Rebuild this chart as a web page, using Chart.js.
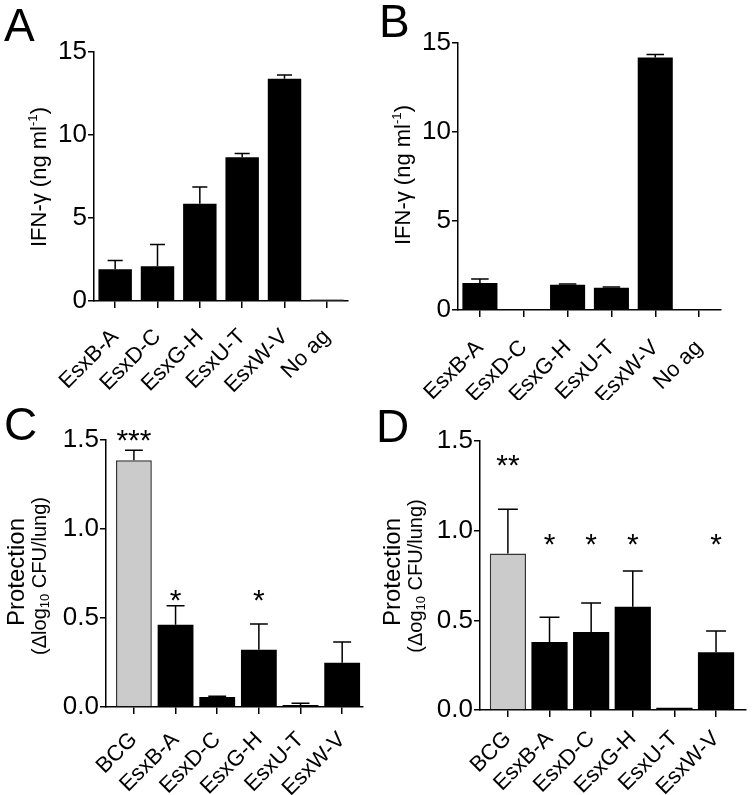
<!DOCTYPE html>
<html><head><meta charset="utf-8">
<script src="https://cdn.jsdelivr.net/npm/chart.js@4.4.1/dist/chart.umd.min.js"></script>
<style>
html,body{margin:0;padding:0;background:#fff;}
body{width:752px;height:795px;position:relative;overflow:hidden;font-family:"Liberation Sans",Arial,Helvetica,sans-serif;color:#000;}
canvas{position:absolute;}
.letter{position:absolute;font-size:46px;line-height:1;white-space:nowrap;}
.ytitle{position:absolute;transform:translate(-50%,-50%) rotate(-90deg);white-space:nowrap;line-height:1;}
.sup{font-size:0.6em;vertical-align:0.75em;}
.sub{font-size:0.65em;vertical-align:-0.3em;}
</style></head>
<body>
<canvas id="cA" width="376" height="400" style="left:0;top:0"></canvas>
<canvas id="cB" width="376" height="400" style="left:376px;top:0"></canvas>
<canvas id="cC" width="376" height="395" style="left:0;top:400px"></canvas>
<canvas id="cD" width="376" height="395" style="left:376px;top:400px"></canvas>

<div class="letter" style="left:4px;top:2px">A</div>
<div class="letter" style="left:379px;top:-2px">B</div>
<div class="letter" style="left:4px;top:401px">C</div>
<div class="letter" style="left:376px;top:403px">D</div>

<div class="ytitle" style="left:38px;top:177px;font-size:22px">IFN-γ (ng ml<span class="sup">-1</span>)</div>
<div class="ytitle" style="left:402px;top:175px;font-size:22px">IFN-γ (ng ml<span class="sup">-1</span>)</div>
<div class="ytitle" style="left:16px;top:572px;font-size:24px">Protection</div>
<div class="ytitle" style="left:40px;top:576px;font-size:20px">(Δlog<span class="sub">10</span> CFU/lung)</div>
<div class="ytitle" style="left:392px;top:572px;font-size:24px">Protection</div>
<div class="ytitle" style="left:416px;top:576px;font-size:20px">(Δog<span class="sub">10</span> CFU/lung)</div>

<script>
// ---- data ----
const ifnCategories = ['EsxB-A','EsxD-C','EsxG-H','EsxU-T','EsxW-V','No ag'];
const protCategories = ['BCG','EsxB-A','EsxD-C','EsxG-H','EsxU-T','EsxW-V'];

const ifnA    = [1.91, 2.09, 5.86, 8.66, 13.39, 0.10];
const ifnAErr = [0.53, 1.31, 1.01, 0.22, 0.22, 0.0];

const ifnB    = [1.52, 0, 1.42, 1.25, 14.19, 0];
const ifnBErr = [0.22, 0, 0.04, 0.04, 0.17, 0];

const protC    = [1.386, 0.462, 0.056, 0.322, 0.011, 0.249];
const protCErr = [0.056, 0.107, 0.005, 0.144, 0.010, 0.116];

const protD    = [0.872, 0.379, 0.435, 0.576, 0.013, 0.322];
const protDErr = [0.247, 0.138, 0.162, 0.199, 0.0, 0.119];

const starsC     = ['***', '*', '', '*', '', ''];
const starLevelC = [1.54, 0.645, null, 0.645, null, null];
const starsD     = ['**', '*', '*', '*', '', '*'];
const starLevelD = [1.41, 0.965, 0.965, 0.965, null, 0.965];

const ifnTicks  = [0, 5, 10, 15];
const protTicks = [0, 0.5, 1.0, 1.5];

// ---- drawing ----
const FONT = '"Liberation Sans", Arial, Helvetica, sans-serif';

function overlayPlugin(errors, capFrac, stars, starLevels) {
  return {
    id: 'overlay',
    afterDatasetsDraw(chart) {
      const ctx = chart.ctx;
      const ys = chart.scales.y;
      const meta = chart.getDatasetMeta(0);
      const vals = chart.data.datasets[0].data;
      ctx.save();
      ctx.strokeStyle = '#000';
      ctx.lineWidth = 1.5;
      meta.data.forEach((bar, i) => {
        const e = errors[i];
        if (!e) return;
        const y0 = ys.getPixelForValue(vals[i]);
        const y1 = ys.getPixelForValue(vals[i] + e);
        const half = bar.width * capFrac / 2;
        ctx.beginPath();
        ctx.moveTo(bar.x, y0); ctx.lineTo(bar.x, y1);
        ctx.moveTo(bar.x - half, y1); ctx.lineTo(bar.x + half, y1);
        ctx.stroke();
      });
      if (stars) {
        const fs = 30;
        ctx.fillStyle = '#000';
        ctx.font = fs + 'px ' + FONT;
        ctx.textAlign = 'center';
        ctx.textBaseline = 'alphabetic';
        meta.data.forEach((bar, i) => {
          if (!stars[i]) return;
          const yc = ys.getPixelForValue(starLevels[i]);
          ctx.fillText(stars[i], bar.x, yc + 0.58 * fs);
        });
      }
      ctx.restore();
    }
  };
}

function makePanel(id, cfg) {
  const canvas = document.getElementById(id);
  const W = canvas.width, H = canvas.height;
  const colors = cfg.categories.map(c => c === 'BCG' ? '#cbcbcb' : (c === 'No ag' ? '#8a8a8a' : '#000'));
  const borders = cfg.categories.map(c => c === 'BCG' ? 1.5 : 0);
  new Chart(canvas, {
    type: 'bar',
    data: {
      labels: cfg.categories,
      datasets: [{
        data: cfg.values,
        backgroundColor: colors,
        borderColor: '#333',
        borderWidth: borders,
        borderSkipped: 'start',
        categoryPercentage: 1,
        barPercentage: cfg.barPct
      }]
    },
    options: {
      responsive: false,
      animation: false,
      devicePixelRatio: 1,
      layout: { padding: { left: 0, top: cfg.areaT, right: W - cfg.areaR, bottom: 0 } },
      plugins: { legend: { display: false }, tooltip: { enabled: false }, title: { display: false } },
      scales: {
        x: {
          type: 'category',
          offset: true,
          grid: { offset: false, drawOnChartArea: false, drawTicks: true, tickLength: 7, color: '#000', lineWidth: 1.5 },
          border: { display: true, color: '#000', width: 1.5 },
          ticks: { color: '#000', font: { family: FONT, size: 22 }, minRotation: 45, maxRotation: 45, autoSkip: false, padding: cfg.labelPad },
          afterFit(s) { s.height = H - cfg.areaB; },
          afterBuildTicks(s) {
            const n = cfg.categories.length;
            s._startValue = -0.5 - (cfg.padL || 0);
            s._valueRange = n + (cfg.padL || 0) + (cfg.padR || 0);
          }
        },
        y: {
          min: cfg.ticks[0],
          max: cfg.ticks[cfg.ticks.length - 1],
          grid: { drawOnChartArea: false, drawTicks: true, tickLength: 6, color: '#000', lineWidth: 1.5 },
          border: { display: true, color: '#000', width: 1.5 },
          ticks: { color: '#000', font: { family: FONT, size: 26 }, padding: 1,
                   callback: v => cfg.decimals ? Number(v).toFixed(cfg.decimals) : String(v) },
          afterBuildTicks(s) { s.ticks = cfg.ticks.map(v => ({ value: v })); },
          afterFit(s) { s.width = cfg.areaL; }
        }
      }
    },
    plugins: [overlayPlugin(cfg.errors, cfg.cap, cfg.stars, cfg.starLevels)]
  });
}

makePanel('cA', { categories: ifnCategories, values: ifnA, errors: ifnAErr, ticks: ifnTicks, decimals: 0,
  areaL: 94, areaT: 52, areaR: 348, areaB: 301, barPct: 0.79, cap: 0.45, labelPad: 16 });
makePanel('cB', { categories: ifnCategories, values: ifnB, errors: ifnBErr, ticks: ifnTicks, decimals: 0,
  areaL: 82, areaT: 43, areaR: 345, areaB: 310, barPct: 0.8, cap: 0.5, labelPad: 18 });
makePanel('cC', { categories: protCategories, values: protC, errors: protCErr, ticks: protTicks, decimals: 1,
  areaL: 106, areaT: 40, areaR: 363, areaB: 307, barPct: 0.86, cap: 0.5, padL: 0.17, padR: 0, labelPad: 13,
  stars: starsC, starLevels: starLevelC });
makePanel('cD', { categories: protCategories, values: protD, errors: protDErr, ticks: protTicks, decimals: 1,
  areaL: 104, areaT: 41, areaR: 370, areaB: 310, barPct: 0.87, cap: 0.55, padL: 0.17, padR: 0.22, labelPad: 9,
  stars: starsD, starLevels: starLevelD });
</script>
</body></html>
